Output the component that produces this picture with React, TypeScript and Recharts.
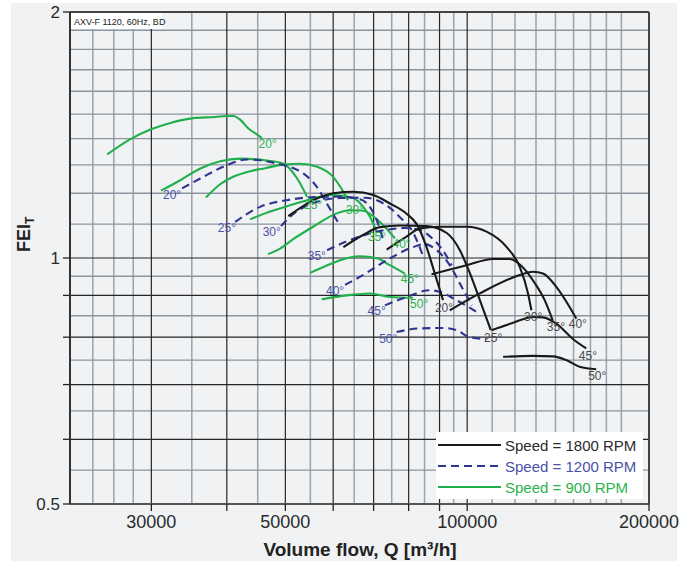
import React from 'react';
import { LineChart, Line, XAxis, YAxis, ReferenceLine, ReferenceDot } from 'recharts';

type Pt = { q: number; fei: number };
type Lbl = { text: string; q: number; fei: number };

// ---- 900 RPM (green) ----
const g20: Pt[] = [
  { q: 25350, fei: 1.339 }, { q: 27700, fei: 1.398 }, { q: 29900, fei: 1.436 }, { q: 32250, fei: 1.463 },
  { q: 35200, fei: 1.483 }, { q: 38270, fei: 1.488 }, { q: 40050, fei: 1.492 }, { q: 40980, fei: 1.492 },
  { q: 42085, fei: 1.477 }, { q: 43440, fei: 1.44 }, { q: 44850, fei: 1.417 }, { q: 45700, fei: 1.403 },
];
const g25: Pt[] = [
  { q: 31130, fei: 1.209 }, { q: 33500, fei: 1.245 }, { q: 36150, fei: 1.287 }, { q: 39000, fei: 1.313 },
  { q: 42090, fei: 1.323 }, { q: 46580, fei: 1.316 }, { q: 49560, fei: 1.305 }, { q: 52270, fei: 1.252 },
  { q: 54330, fei: 1.188 },
];
const g30: Pt[] = [
  { q: 36940, fei: 1.186 }, { q: 39000, fei: 1.231 }, { q: 40980, fei: 1.257 }, { q: 43720, fei: 1.277 },
  { q: 46280, fei: 1.288 }, { q: 49560, fei: 1.301 }, { q: 52870, fei: 1.304 }, { q: 56430, fei: 1.293 },
  { q: 59970, fei: 1.257 }, { q: 61830, fei: 1.218 }, { q: 63500, fei: 1.177 },
];
const g35: Pt[] = [
  { q: 43720, fei: 1.115 }, { q: 46280, fei: 1.134 }, { q: 49000, fei: 1.15 }, { q: 52870, fei: 1.17 },
  { q: 57080, fei: 1.188 }, { q: 59970, fei: 1.194 }, { q: 64710, fei: 1.184 }, { q: 66970, fei: 1.16 },
  { q: 69030, fei: 1.123 }, { q: 70820, fei: 1.077 },
];
const g40: Pt[] = [
  { q: 46810, fei: 1.011 }, { q: 49000, fei: 1.027 }, { q: 51880, fei: 1.058 }, { q: 55580, fei: 1.092 },
  { q: 60820, fei: 1.134 }, { q: 63980, fei: 1.144 }, { q: 66970, fei: 1.143 }, { q: 71710, fei: 1.107 },
  { q: 75920, fei: 1.057 },
];
const g45: Pt[] = [
  { q: 54950, fei: 0.959 }, { q: 58180, fei: 0.977 }, { q: 61590, fei: 0.994 }, { q: 66460, fei: 1.005 },
  { q: 70890, fei: 0.999 }, { q: 74490, fei: 0.98 }, { q: 78860, fei: 0.957 },
];
const g50: Pt[] = [
  { q: 57450, fei: 0.89 }, { q: 63180, fei: 0.9 }, { q: 69030, fei: 0.905 }, { q: 74490, fei: 0.896 },
  { q: 81290, fei: 0.894 },
];
const greenLabels: Lbl[] = [
  { text: '20°', q: 46720, fei: 1.38 }, { text: '25°', q: 55580, fei: 1.16 }, { text: '30°', q: 65210, fei: 1.146 },
  { text: '35°', q: 70900, fei: 1.062 }, { text: '40°', q: 77880, fei: 1.039 }, { text: '45°', q: 80370, fei: 0.942 },
  { text: '50°', q: 83270, fei: 0.878 },
];

// ---- 1200 RPM (blue, dashed) ----
const b20: Pt[] = [
  { q: 33720, fei: 1.217 }, { q: 36150, fei: 1.251 }, { q: 40010, fei: 1.299 }, { q: 43170, fei: 1.32 },
  { q: 48390, fei: 1.305 }, { q: 53540, fei: 1.269 }, { q: 56370, fei: 1.222 }, { q: 58550, fei: 1.166 },
  { q: 61200, fei: 1.104 },
];
const b25: Pt[] = [
  { q: 41290, fei: 1.107 }, { q: 45410, fei: 1.155 }, { q: 50260, fei: 1.177 }, { q: 55650, fei: 1.187 },
  { q: 61590, fei: 1.189 }, { q: 66460, fei: 1.18 }, { q: 69560, fei: 1.144 }, { q: 71710, fei: 1.085 },
  { q: 72810, fei: 1.043 },
];
const b30: Pt[] = [
  { q: 49180, fei: 1.094 }, { q: 51480, fei: 1.131 }, { q: 55580, fei: 1.167 }, { q: 61590, fei: 1.184 },
  { q: 67730, fei: 1.185 }, { q: 73090, fei: 1.163 }, { q: 77380, fei: 1.122 }, { q: 81290, fei: 1.076 },
  { q: 84760, fei: 1.0 },
];
const b35: Pt[] = [
  { q: 58620, fei: 1.022 }, { q: 62780, fei: 1.046 }, { q: 67730, fei: 1.067 }, { q: 73090, fei: 1.082 },
  { q: 78860, fei: 1.088 }, { q: 83490, fei: 1.082 }, { q: 87390, fei: 1.058 }, { q: 91120, fei: 1.022 },
  { q: 94290, fei: 0.98 },
];
const b40: Pt[] = [
  { q: 62780, fei: 0.927 }, { q: 67220, fei: 0.953 }, { q: 73650, fei: 0.994 }, { q: 81290, fei: 1.031 },
  { q: 85090, fei: 1.04 }, { q: 89060, fei: 1.022 }, { q: 93580, fei: 0.98 }, { q: 98000, fei: 0.921 },
  { q: 101800, fei: 0.875 },
];
const b45: Pt[] = [
  { q: 73090, fei: 0.875 }, { q: 79360, fei: 0.896 }, { q: 86720, fei: 0.913 }, { q: 90090, fei: 0.909 },
  { q: 95980, fei: 0.888 }, { q: 103630, fei: 0.859 },
];
const b50: Pt[] = [
  { q: 76400, fei: 0.812 }, { q: 83490, fei: 0.82 }, { q: 91220, fei: 0.821 }, { q: 95980, fei: 0.816 },
  { q: 101030, fei: 0.8 }, { q: 107650, fei: 0.796 },
];
const blueLabels: Lbl[] = [
  { text: '20°', q: 32460, fei: 1.194 }, { text: '25°', q: 40010, fei: 1.087 }, { text: '30°', q: 47470, fei: 1.075 },
  { text: '35°', q: 56370, fei: 1.005 }, { text: '40°', q: 60430, fei: 0.91 }, { text: '45°', q: 70820, fei: 0.861 },
  { text: '50°', q: 74010, fei: 0.796 },
];

// ---- 1800 RPM (black) ----
const k20: Pt[] = [
  { q: 50570, fei: 1.125 }, { q: 55650, fei: 1.177 }, { q: 60040, fei: 1.2 }, { q: 64790, fei: 1.205 },
  { q: 69900, fei: 1.194 }, { q: 74490, fei: 1.166 }, { q: 79360, fei: 1.133 }, { q: 82440, fei: 1.101 },
  { q: 85630, fei: 1.032 }, { q: 88390, fei: 0.957 }, { q: 91220, fei: 0.888 },
];
const k25: Pt[] = [
  { q: 62370, fei: 1.031 }, { q: 67220, fei: 1.067 }, { q: 71710, fei: 1.091 }, { q: 77380, fei: 1.096 },
  { q: 85740, fei: 1.094 }, { q: 92510, fei: 1.073 }, { q: 97260, fei: 1.022 }, { q: 101030, fei: 0.958 },
  { q: 104950, fei: 0.888 }, { q: 109430, fei: 0.816 },
];
const k30: Pt[] = [
  { q: 73560, fei: 1.024 }, { q: 79360, fei: 1.062 }, { q: 83490, fei: 1.087 }, { q: 90090, fei: 1.092 },
  { q: 99760, fei: 1.092 }, { q: 107650, fei: 1.077 }, { q: 116150, fei: 1.032 }, { q: 122190, fei: 0.975 },
  { q: 126110, fei: 0.905 }, { q: 127750, fei: 0.863 },
];
const k35: Pt[] = [
  { q: 87290, fei: 0.955 }, { q: 99760, fei: 0.98 }, { q: 110390, fei: 0.997 }, { q: 117630, fei: 0.997 },
  { q: 123120, fei: 0.977 }, { q: 129360, fei: 0.932 }, { q: 134370, fei: 0.888 }, { q: 138520, fei: 0.839 },
];
const k40: Pt[] = [
  { q: 93580, fei: 0.863 }, { q: 104950, fei: 0.905 }, { q: 122190, fei: 0.953 }, { q: 128530, fei: 0.962 },
  { q: 133510, fei: 0.957 }, { q: 140470, fei: 0.922 }, { q: 147770, fei: 0.871 }, { q: 151570, fei: 0.843 },
];
const k45: Pt[] = [
  { q: 109720, fei: 0.816 }, { q: 118530, fei: 0.832 }, { q: 128530, fei: 0.847 }, { q: 133510, fei: 0.846 },
  { q: 140470, fei: 0.831 }, { q: 149640, fei: 0.796 }, { q: 157450, fei: 0.775 },
];
const k50: Pt[] = [
  { q: 114670, fei: 0.757 }, { q: 128530, fei: 0.759 }, { q: 138680, fei: 0.758 }, { q: 145900, fei: 0.75 },
  { q: 153500, fei: 0.736 }, { q: 163540, fei: 0.731 },
];
const blackLabels: Lbl[] = [
  { text: '20°', q: 91530, fei: 0.869 }, { text: '25°', q: 110400, fei: 0.798 }, { text: '30°', q: 128580, fei: 0.848 },
  { text: '35°', q: 140260, fei: 0.824 }, { text: '40°', q: 152450, fei: 0.831 }, { text: '45°', q: 158440, fei: 0.759 },
  { text: '50°', q: 164170, fei: 0.717 },
];

// ---- axes / grid ----
const xDomain = [22000, 200000];
const yDomain = [0.5, 2];
const xMajor = [30000, 40000, 50000, 60000, 70000, 80000, 90000, 100000];
const xMinor = [24000, 26000, 28000, 35000, 45000, 55000, 65000, 75000, 85000, 95000,
  110000, 120000, 130000, 140000, 150000, 160000, 170000, 180000];
const yMajor = [0.6, 0.7, 0.8, 0.9, 1];
const yMinor = [0.55, 0.65, 0.75, 0.85, 0.95, 1.1, 1.2, 1.3, 1.4, 1.5, 1.6, 1.7, 1.8, 1.9];
const xTicks = [30000, 40000, 50000, 60000, 70000, 80000, 90000, 100000, 200000];
const xTickLabels = [30000, 50000, 100000, 200000];
const yTicks = [0.5, 0.6, 0.7, 0.8, 0.9, 1, 2];
const yTickLabels = [0.5, 1, 2];

const BLACK = '#1a1a1a';
const BLUE = '#2e3590';
const GREEN = '#1fb04b';
const BLACK_TXT = '#4a4a4a';
const BLUE_TXT = '#4a51a8';
const GREEN_TXT = '#2db24c';
const FONT = '"Liberation Sans", Arial, Helvetica, sans-serif';

const series = [
  { key: 'g20', data: g20, color: GREEN, dash: undefined },
  { key: 'g25', data: g25, color: GREEN, dash: undefined },
  { key: 'g30', data: g30, color: GREEN, dash: undefined },
  { key: 'g35', data: g35, color: GREEN, dash: undefined },
  { key: 'g40', data: g40, color: GREEN, dash: undefined },
  { key: 'g45', data: g45, color: GREEN, dash: undefined },
  { key: 'g50', data: g50, color: GREEN, dash: undefined },
  { key: 'b20', data: b20, color: BLUE, dash: '8 5' },
  { key: 'b25', data: b25, color: BLUE, dash: '8 5' },
  { key: 'b30', data: b30, color: BLUE, dash: '8 5' },
  { key: 'b35', data: b35, color: BLUE, dash: '8 5' },
  { key: 'b40', data: b40, color: BLUE, dash: '8 5' },
  { key: 'b45', data: b45, color: BLUE, dash: '8 5' },
  { key: 'b50', data: b50, color: BLUE, dash: '8 5' },
  { key: 'k20', data: k20, color: BLACK, dash: undefined },
  { key: 'k25', data: k25, color: BLACK, dash: undefined },
  { key: 'k30', data: k30, color: BLACK, dash: undefined },
  { key: 'k35', data: k35, color: BLACK, dash: undefined },
  { key: 'k40', data: k40, color: BLACK, dash: undefined },
  { key: 'k45', data: k45, color: BLACK, dash: undefined },
  { key: 'k50', data: k50, color: BLACK, dash: undefined },
];

const labelSets = [
  { items: greenLabels, color: GREEN_TXT, id: 'gl' },
  { items: blueLabels, color: BLUE_TXT, id: 'bl' },
  { items: blackLabels, color: BLACK_TXT, id: 'kl' },
];

export default function App() {
  return (
    <div style={{ position: 'absolute', left: 0, top: 0, width: 692, height: 561, background: '#ffffff', fontFamily: FONT }}>
      <div style={{ position: 'absolute', left: 11, top: 3, width: 666, height: 558, background: '#f0f2f4' }} />
      <div style={{ position: 'absolute', left: 0, top: 0 }}>
        <LineChart width={692} height={561} margin={{ top: 12, right: 43, bottom: 27, left: 10 }} style={{ fontFamily: FONT }}>
          <XAxis
            dataKey="q"
            type="number"
            scale="log"
            domain={xDomain}
            allowDataOverflow
            ticks={xTicks}
            interval={0}
            height={30}
            tickSize={7}
            tickMargin={4}
            tickFormatter={(v: number) => (xTickLabels.includes(v) ? String(v) : '')}
            tick={{ fontSize: 18, fill: '#2a2a2a' }}
            tickLine={{ stroke: '#222', strokeWidth: 1.3 }}
            axisLine={{ stroke: '#555', strokeWidth: 2 }}
          />
          <YAxis
            dataKey="fei"
            type="number"
            scale="log"
            domain={yDomain}
            allowDataOverflow
            ticks={yTicks}
            interval={0}
            width={60}
            tickSize={7}
            tickMargin={3}
            tickFormatter={(v: number) => (yTickLabels.includes(v) ? String(v) : '')}
            tick={{ fontSize: 17, fill: '#2a2a2a' }}
            tickLine={{ stroke: '#222', strokeWidth: 1.3 }}
            axisLine={{ stroke: '#333', strokeWidth: 2 }}
          />
          {xMinor.map((v) => (
            <ReferenceLine key={'xm' + v} x={v} stroke="#9ba3ab" strokeWidth={1.5} />
          ))}
          {yMinor.map((v) => (
            <ReferenceLine key={'ym' + v} y={v} stroke="#8c959e" strokeWidth={1.4} />
          ))}
          {xMajor.map((v) => (
            <ReferenceLine key={'xM' + v} x={v} stroke="#262626" strokeWidth={1.2} />
          ))}
          {yMajor.map((v) => (
            <ReferenceLine key={'yM' + v} y={v} stroke="#262626" strokeWidth={1.2} />
          ))}
          <ReferenceLine y={2} stroke="#444" strokeWidth={2} />
          <ReferenceLine x={200000} stroke="#444" strokeWidth={2} />
          {series.map((s) => (
            <Line
              key={s.key}
              data={s.data}
              dataKey="fei"
              type="monotone"
              stroke={s.color}
              strokeWidth={2.1}
              strokeDasharray={s.dash}
              dot={false}
              activeDot={false}
              isAnimationActive={false}
            />
          ))}
          {labelSets.map((set) =>
            set.items.map((l) => (
              <ReferenceDot
                key={set.id + l.text}
                x={l.q}
                y={l.fei}
                r={0}
                shape={(p: any) => (
                  <text
                    x={p.cx}
                    y={p.cy}
                    textAnchor="middle"
                    dominantBaseline="central"
                    fontSize={12}
                    fill={set.color}
                    fontFamily={FONT}
                  >
                    {l.text}
                  </text>
                )}
              />
            ))
          )}
        </LineChart>
      </div>
      <svg width={692} height={561} style={{ position: 'absolute', left: 0, top: 0, pointerEvents: 'none' }}>
        <rect x={71} y={13} width={91} height={16} fill="#ffffff" />
        <text x={74} y={25} fontSize={9} fill="#222" fontFamily={FONT}>AXV-F 1120, 60Hz, BD</text>
        <text transform="translate(30,252) rotate(-90)" fontSize={18} fontWeight="bold" fill="#222" fontFamily={FONT}>
          FEI<tspan dy={4} fontSize={12}>T</tspan>
        </text>
        <text x={360} y={556} textAnchor="middle" fontSize={19} fontWeight="bold" fill="#222" fontFamily={FONT}>
          Volume flow, Q [m³/h]
        </text>
        <rect x={436} y={432} width={207} height={67} fill="#ffffff" />
        <line x1={438} y1={445} x2={501} y2={445} stroke={BLACK} strokeWidth={2} />
        <text x={505} y={450.5} fontSize={15} fill="#2a2a2a" fontFamily={FONT}>Speed = 1800 RPM</text>
        <line x1={438} y1={466} x2={501} y2={466} stroke={BLUE} strokeWidth={2} strokeDasharray="8 5" />
        <text x={505} y={471.5} fontSize={15} fill={BLUE_TXT} fontFamily={FONT}>Speed = 1200 RPM</text>
        <line x1={438} y1={487} x2={501} y2={487} stroke={GREEN} strokeWidth={2} />
        <text x={505} y={492.5} fontSize={15} fill={GREEN_TXT} fontFamily={FONT}>Speed = 900 RPM</text>
      </svg>
    </div>
  );
}
